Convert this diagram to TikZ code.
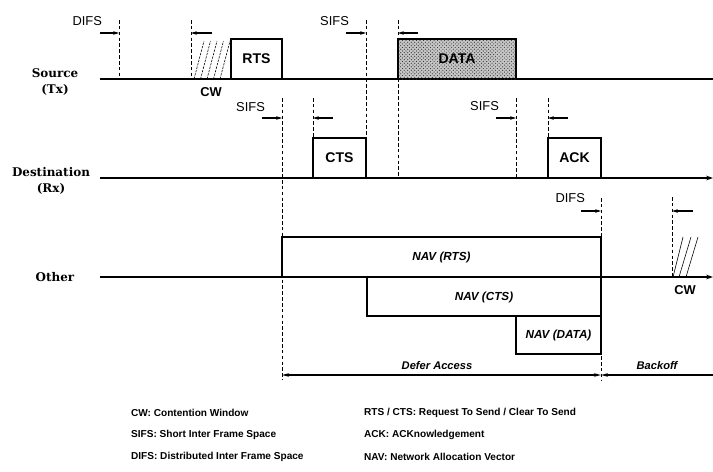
\documentclass[tikz,border=0pt]{standalone}
\usepackage{fontspec}
\setsansfont{Liberation Sans}
\newfontfamily\stationfont{DejaVu Serif}
\usetikzlibrary{arrows.meta,patterns}

\begin{document}
\begin{tikzpicture}[
  x=0.03cm, y=-0.03cm,
  >=Stealth,
  station/.style={font=\stationfont\fontsize{10.2}{13}\selectfont\bfseries,align=center},
  timeline/.style={line width=1.3pt},
  frame/.style={line width=0.9pt},
  frametext/.style={font=\sffamily\fontsize{12}{14}\selectfont\bfseries},
  navtext/.style={font=\sffamily\fontsize{10}{12}\selectfont\bfseries\itshape},
  gaptext/.style={font=\sffamily\fontsize{11}{13}\selectfont,anchor=east},
  boundary/.style={dash pattern=on 3pt off 2pt,line width=0.6pt},
  gap/.style={-{Stealth[length=5pt,width=3pt]},line width=0.9pt},
  span/.style={line width=1.2pt},
  hatch/.style={line width=0.5pt},
  legend/.style={font=\sffamily\fontsize{8.6}{10}\selectfont\bfseries,anchor=west}
]
  \useasboundingbox (0,0) rectangle (713,471);

  % stations and their time lines
  \node[station] (src) at (55,82) {Source\\(Tx)};
  \node[station] (dst) at (51,181) {Destination\\(Rx)};
  \node[station] (oth) at (55,277) {Other};

  \coordinate (srcA) at (100,79);  \coordinate (srcB) at (713,79);
  \coordinate (dstA) at (100,178); \coordinate (dstB) at (713,178);
  \coordinate (othA) at (100,277); \coordinate (othB) at (713,277);
  \draw[timeline] (srcA) -- (srcB);
  \draw[timeline,-{Stealth[length=6pt,width=4pt]}] (dstA) -- (dstB);
  \draw[timeline,-{Stealth[length=6pt,width=4pt]}] (othA) -- (othB);

  % frames
  \filldraw[frame,fill=gray!45] (398,79) rectangle (516,39);
  \fill[pattern=crosshatch dots,pattern color=black!80] (398,79) rectangle (516,39);
  \draw[frame] (231,79) rectangle (282,39);
  \draw[frame] (313,178) rectangle (366,138);
  \draw[frame] (548,178) rectangle (601,138);
  \node[frametext] (rts) at (256.5,59) {RTS};
  \node[frametext] (cts) at (339.5,158) {CTS};
  \node[frametext] (data) at (457,59) {DATA};
  \node[frametext] (ack) at (574.5,158) {ACK};

  % NAV settings
  \draw[frame] (282,277) rectangle (601,237);
  \draw[frame] (367,277) rectangle (601,316);
  \draw[frame] (516,316) rectangle (601,354);
  \node[navtext] (navrts) at (441.5,257) {NAV (RTS)};
  \node[navtext] (navcts) at (484,297) {NAV (CTS)};
  \node[navtext] (navdata) at (558.5,335) {NAV (DATA)};

  % contention windows
  \foreach \i in {0,...,4}
    \draw[hatch,dash pattern=on 2pt off 1pt] (194+6.5*\i,79) -- (204+6.5*\i,41);
  \foreach \b/\t in {673/683,679/691,686/698}
    \draw[hatch] (\b,277) -- (\t,237);
  \node[frametext,font=\sffamily\fontsize{11}{13}\selectfont\bfseries] (cw1) at (211,92) {CW};
  \node[frametext,font=\sffamily\fontsize{11}{13}\selectfont\bfseries] (cw2) at (685,290) {CW};

  % inter frame spaces
  \foreach \x/\a/\b in {119/20/79,191/20/79,366/20/138,398/20/178,282/98/380,
      313/98/138,516/98/178,548/98/138,601/198/380,672/197/277}
    \draw[boundary] (\x,\a) -- (\x,\b);
  \foreach \a/\b/\y in {100/119/33,212/191/33,346/366/33,418/398/33,
      262/282/118,333/313/118,496/516/118,568/548/118,581/601/211,693/672/211}
    \draw[gap] (\a,\y) -- (\b,\y);
  \node[gaptext] (difs1) at (106,21) {DIFS};
  \node[gaptext] (sifs1) at (353,21) {SIFS};
  \node[gaptext] (sifs2) at (269,107) {SIFS};
  \node[gaptext] (sifs3) at (503,106) {SIFS};
  \node[gaptext] (difs2) at (589,198) {DIFS};

  % defer and backoff
  \coordinate (defA) at (282,375); \coordinate (defB) at (601,375);
  \coordinate (bkB) at (713,375);
  \draw[span,{Stealth[length=6pt,width=3pt]}-{Stealth[length=6pt,width=3pt]}] (defA) -- (defB);
  \draw[span,-{Stealth[length=6pt,width=3pt]}] (bkB) -- (defB);
  \node[navtext,font=\sffamily\fontsize{9.5}{11}\selectfont\bfseries\itshape] (defer) at (437,366) {Defer Access};
  \node[navtext,font=\sffamily\fontsize{9.5}{11}\selectfont\bfseries\itshape] (backoff) at (657,366) {Backoff};

  % legend
  \node[legend] (lcw) at (127,413) {CW: Contention Window};
  \node[legend] (lsifs) at (127,435) {SIFS: Short Inter Frame Space};
  \node[legend] (ldifs) at (127,457) {DIFS: Distributed Inter Frame Space};
  \node[legend] (lrts) at (360,413) {RTS / CTS: Request To Send / Clear To Send};
  \node[legend] (lack) at (360,435) {ACK: ACKnowledgement};
  \node[legend] (lnav) at (360,457) {NAV: Network Allocation Vector};
\end{tikzpicture}
\end{document}
